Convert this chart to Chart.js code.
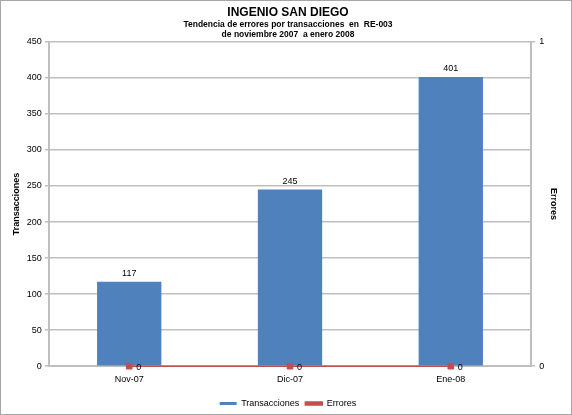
<!DOCTYPE html>
<html>
<head>
<meta charset="utf-8">
<script src="https://cdn.jsdelivr.net/npm/chart.js@4/dist/chart.umd.min.js"></script>
<style>
  html, body { margin: 0; padding: 0; background: #fff; }
  #wrap { position: relative; width: 570px; height: 413px; border: 1px solid #a6a6a6; }
</style>
</head>
<body>
<div id="wrap"><canvas id="chart"></canvas></div>
<script>
  /* ---------- Datos ---------- */
  const meses = ["Nov-07", "Dic-07", "Ene-08"];
  const transacciones = [117, 245, 401];
  const errores = [0, 0, 0];

  const GRID = "#bfbfbf";
  const TXT = "#000000";
  const FONT = "'Liberation Sans', Arial, sans-serif";

  Chart.defaults.font.family = FONT;
  Chart.defaults.font.size = 9;
  Chart.defaults.color = TXT;

  // etiquetas de valor sobre las barras y junto a los marcadores
  const valueLabels = {
    id: "valueLabels",
    afterDatasetsDraw(chart) {
      const ctx = chart.ctx;
      ctx.save();
      ctx.font = "9px " + FONT;
      ctx.fillStyle = "#000";
      chart.data.datasets.forEach((ds, i) => {
        const meta = chart.getDatasetMeta(i);
        meta.data.forEach((el, j) => {
          if (ds.type === "bar") {
            ctx.textAlign = "center";
            ctx.textBaseline = "bottom";
            ctx.fillText(ds.data[j], el.x, el.y - 4);
          } else {
            ctx.textAlign = "left";
            ctx.textBaseline = "middle";
            ctx.fillText(ds.data[j], el.x + 7, el.y + 1);
          }
        });
      });
      ctx.restore();
    }
  };

  new Chart(document.getElementById("chart"), {
    data: {
      labels: meses,
      datasets: [
        {
          type: "line",
          label: "Errores",
          data: errores,
          yAxisID: "y1",
          borderColor: "#c0504d",
          backgroundColor: "#c0504d",
          borderWidth: 1.5,
          pointStyle: "rect",
          pointRadius: 4,
          pointBorderWidth: 1,
          pointBorderColor: "#c0504d",
          clip: false,
          order: 0,
        },
        {
          type: "bar",
          label: "Transacciones",
          data: transacciones,
          yAxisID: "y",
          backgroundColor: "#4f81bd",
          borderWidth: 0,
          barPercentage: 0.4,
          categoryPercentage: 1,
          order: 1,
        },
      ],
    },
    options: {
      responsive: true,
      maintainAspectRatio: false,
      animation: false,
      layout: { padding: { left: 10, right: 6, top: 0, bottom: -4 } },
      plugins: {
        title: {
          display: true,
          text: "INGENIO SAN DIEGO",
          font: { size: 12, weight: "bold" },
          padding: { top: 4, bottom: 0 },
        },
        subtitle: {
          display: true,
          text: ["Tendencia de errores por transacciones  en  RE-003", "de noviembre 2007  a enero 2008"],
          font: { size: 8.5, weight: "bold" },
          padding: { top: 0, bottom: 2 },
        },
        legend: {
          position: "bottom",
          reverse: true,
          labels: {
            boxWidth: 17,
            boxHeight: 3,
            padding: 6,
            font: { size: 9 },
          },
        },
        tooltip: { enabled: false },
      },
      scales: {
        x: {
          grid: { display: false, drawTicks: false },
          border: { color: GRID, width: 2 },
          ticks: { color: TXT, font: { size: 9 }, padding: 8 },
        },
        y: {
          position: "left",
          min: 0, max: 450,
          ticks: { stepSize: 50, color: TXT, font: { size: 9 }, padding: 3 },
          grid: { color: GRID, lineWidth: 1.5, tickLength: 4 },
          border: { color: GRID, width: 2 },
          title: { display: true, text: "Transacciones", font: { size: 9, weight: "bold" }, padding: { top: 0, bottom: 2 } },
        },
        y1: {
          position: "right",
          min: 0, max: 1,
          ticks: { stepSize: 1, color: TXT, font: { size: 9 }, padding: 4 },
          grid: { drawOnChartArea: false, color: GRID, tickLength: 4, lineWidth: 1.5 },
          border: { color: GRID, width: 2 },
          title: { display: true, text: "Errores", font: { size: 9, weight: "bold" }, padding: { top: 6, bottom: 0 } },
        },
      },
    },
    plugins: [valueLabels],
  });
</script>
</body>
</html>
